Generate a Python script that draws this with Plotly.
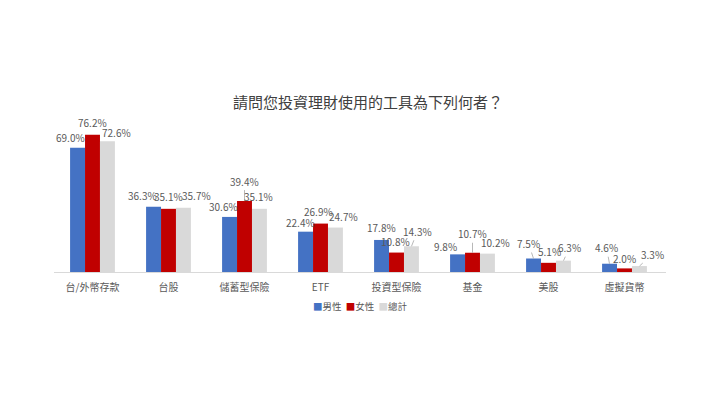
import plotly.graph_objects as go

# categories and survey results (%)
categories = ["台/外幣存款", "台股", "儲蓄型保險", "ETF", "投資型保險", "基金", "美股", "虛擬貨幣"]
male = [69.0, 36.3, 30.6, 22.4, 17.8, 9.8, 7.5, 4.6]
female = [76.2, 35.1, 39.4, 26.9, 10.8, 10.7, 5.1, 2.0]
total = [72.6, 35.7, 35.1, 24.7, 14.3, 10.2, 6.3, 3.3]

series_names = ["男性", "女性", "總計"]
colors = ["#4472C4", "#C00000", "#D9D9D9"]

# label nudges in px (dx, dy, leader line) per series, per category
label_nudge = [
    [(-7, -10, 0), (-11, -11, 0), (-6, -10, 0), (-5, -9, 0), (0, -12, 0), (-12, -8, 0), (-5, -15, 1), (-3, -16, 1)],
    [(0, -12, 0), (0, -12, 0), (0, -20, 1), (-2, -12, 0), (-1, -11, 0), (0, -19, 1), (1, -11, 0), (0, -10, 0)],
    [(9, -9, 0), (13, -12, 0), (-1, -12, 0), (8, -11, 0), (6, -15, 1), (8, -11, 0), (6, -13, 1), (13, -12, 1)],
]
bar_shift = [-15, 0, 15]

FONT = "Noto Sans CJK TC"
GREY = "#595959"

fig = go.Figure()
for name, vals, col in zip(series_names, [male, female, total], colors):
    fig.add_trace(go.Bar(
        x=categories,
        y=vals,
        name=name,
        marker=dict(color=col, line=dict(width=0)),
        showlegend=False,
    ))

# data labels with small nudges / leader lines
for s, vals in enumerate([male, female, total]):
    for i, (cat, v) in enumerate(zip(categories, vals)):
        dx, dy, lead = label_nudge[s][i]
        fig.add_annotation(
            x=cat, y=v, xref="x", yref="y",
            xshift=bar_shift[s],
            text=f"{v:.1f}%",
            showarrow=True,
            ax=dx, ay=dy, axref="pixel", ayref="pixel",
            arrowhead=0, arrowwidth=0.8,
            arrowcolor="#A6A6A6" if lead else "rgba(0,0,0,0)",
            standoff=0,
            font=dict(family=FONT, size=10, color=GREY),
        )

# compact legend line, Excel style
legend_text = "&nbsp;&nbsp;".join(
    f"<span style='color:{c}'>■</span>{n}" for n, c in zip(series_names, colors)
)
fig.add_annotation(
    text=legend_text, xref="paper", yref="paper",
    x=0.5, y=-0.236, xanchor="center", yanchor="middle",
    showarrow=False, font=dict(family=FONT, size=9.5, color=GREY),
)

fig.update_layout(
    width=720,
    height=405,
    paper_bgcolor="white",
    plot_bgcolor="white",
    barmode="group",
    bargap=0.41,
    bargroupgap=0,
    margin=dict(l=46, r=62, t=120, b=141),
    font=dict(family=FONT, color=GREY),
    title=dict(
        text="請問您投資理財使用的工具為下列何者？",
        x=0.5, xanchor="center",
        y=1 - 95 / 405, yanchor="middle",
        font=dict(family=FONT, size=15, color="#404040"),
    ),
    showlegend=False,
)
fig.update_xaxes(
    showline=True, linecolor="#D9D9D9", linewidth=1,
    ticks="", ticklabelstandoff=6,
    tickfont=dict(family=FONT, size=10, color=GREY),
)
fig.update_yaxes(range=[0, 80], visible=False, showgrid=False)

fig.write_html("out.html")
